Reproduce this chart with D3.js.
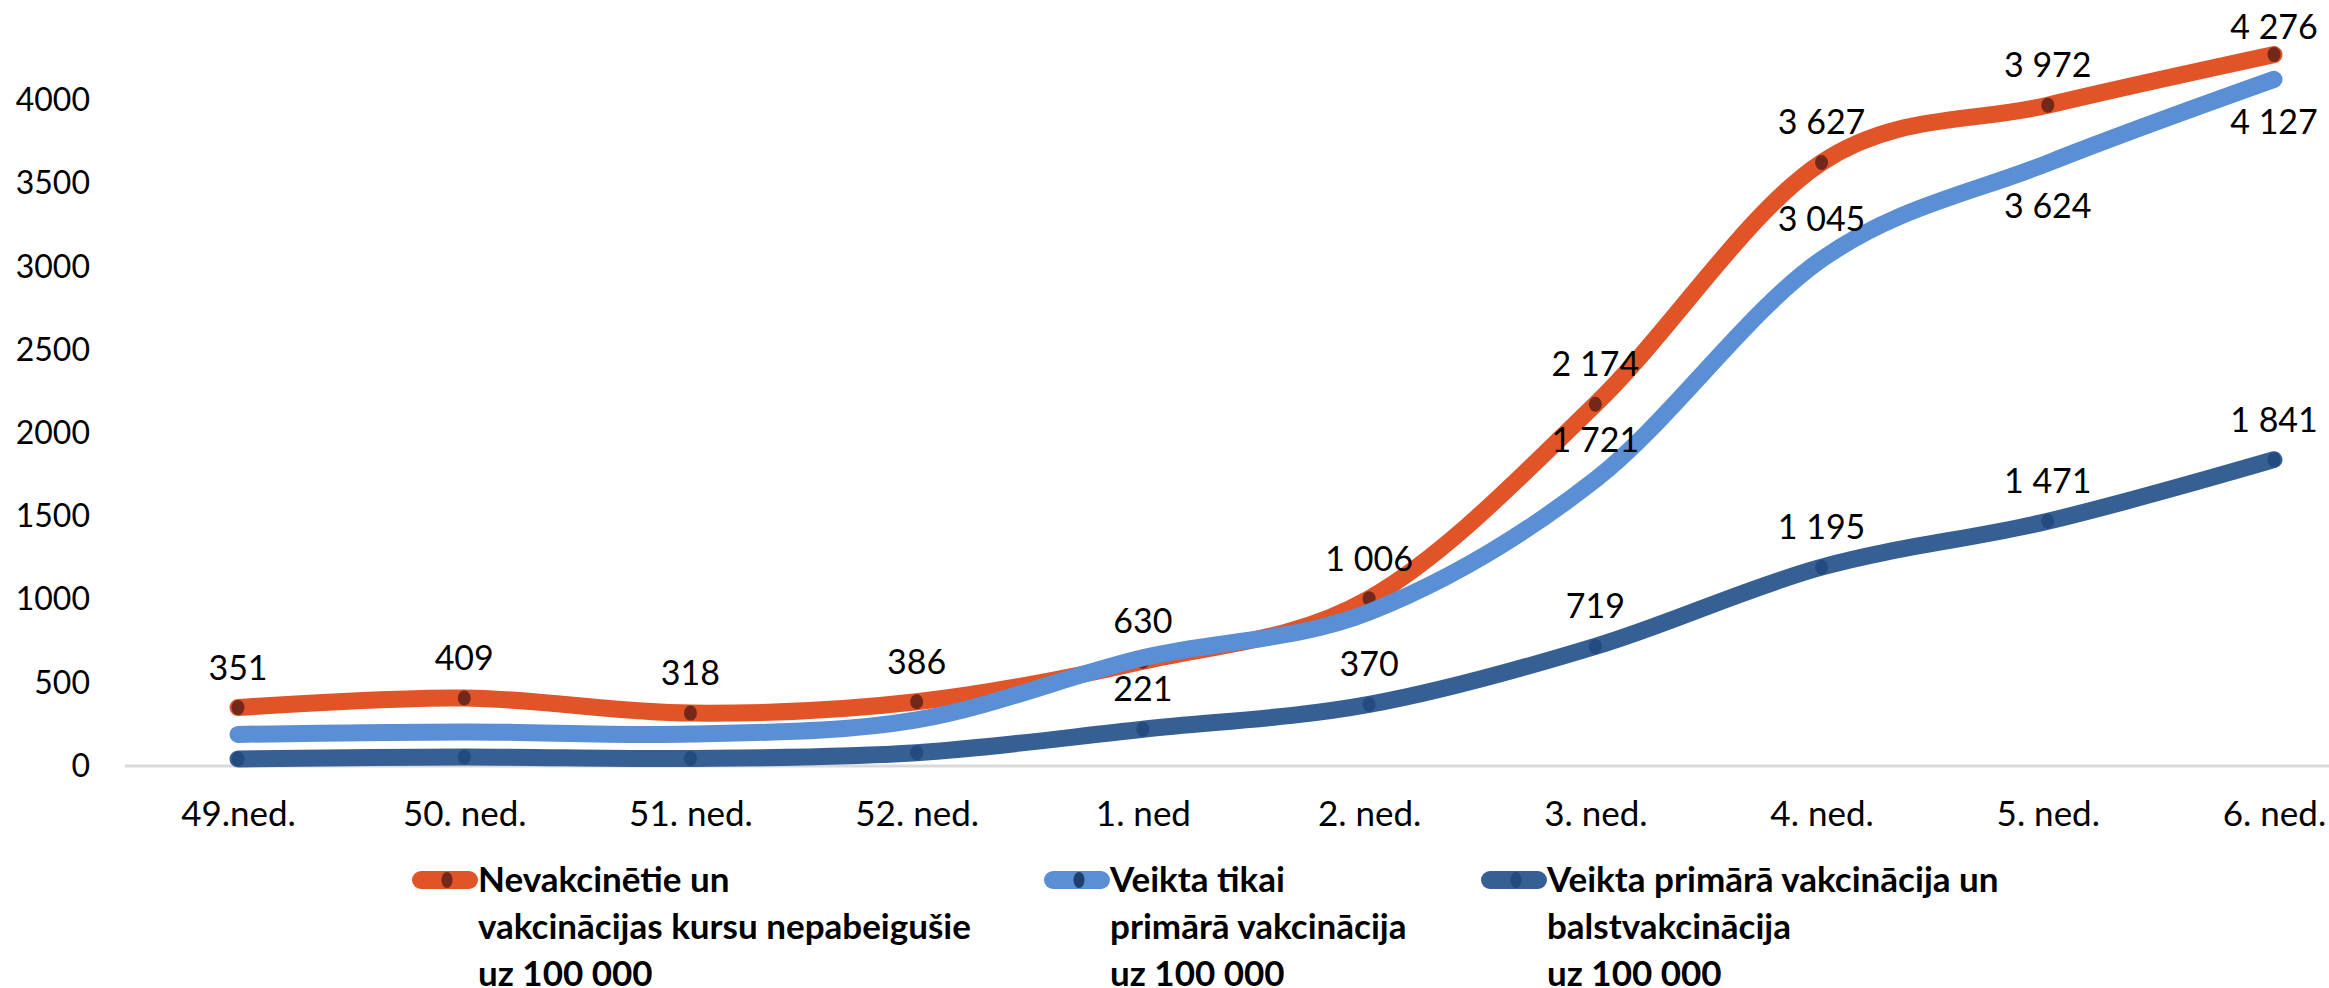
<!DOCTYPE html>
<html>
<head>
<meta charset="utf-8">
<script src="https://cdn.jsdelivr.net/npm/d3@7"></script>
<style>
	body{margin:0;background:#fff}
	text{font-family:Lato,"Open Sans",sans-serif;fill:#000}
</style>
</head>
<body>
<div id="chart"></div>
<script>
// week labels on the x axis
var weeks=["49.ned.","50. ned.","51. ned.","52. ned.","1. ned","2. ned.","3. ned.","4. ned.","5. ned.","6. ned."]

// cases per 100 000
var unvaccinated=[351,409,318,386,630,1006,2174,3627,3972,4276]
var primaryOnly=[190,205,192,277,650,925,1721,3045,3624,4127]
var boosted=[42,54,45,80,221,370,719,1195,1471,1841]

var yTicks=[0,500,1000,1500,2000,2500,3000,3500,4000]

var legendNames=[
	["Nevakcinētie un","vakcinācijas kursu nepabeigušie","uz 100 000"],
	["Veikta tikai","primārā vakcinācija","uz 100 000"],
	["Veikta primārā vakcinācija un","balstvakcinācija","uz 100 000"]
]

var W=2329,H=988

// label side per point: 1 above, -1 below, 0 none
var series=[
	{values:unvaccinated,color:"#e05427",dot:"#74281a",dots:true,labels:[1,1,1,1,1,1,1,1,1,1]},
	{values:primaryOnly,color:"#5a8fd6",dot:"#1f3f6e",dots:false,labels:[0,0,0,0,0,0,1,1,-1,-1]},
	{values:boosted,color:"#365f93",dot:"#244b80",dots:true,labels:[0,0,0,0,1,1,1,1,1,1]}
]

var fmt=d3.formatLocale({decimal:",",thousands:" ",grouping:[3],currency:["",""]}).format(",")

var svg=d3.select("#chart").append("svg")
	.attr("width",W)
	.attr("height",H)

var x=d3.scalePoint()
	.domain(weeks)
	.range([238,2274])

var y=d3.scaleLinear()
	.domain([0,4000])
	.range([766,100.5])

// y axis: labels only
var yAxis=svg.append("g")
	.attr("transform","translate(90,0)")
	.call(d3.axisLeft(y).tickValues(yTicks).tickSize(0).tickPadding(0).tickFormat(d3.format("d")))
yAxis.select(".domain").remove()
yAxis.selectAll("text")
	.style("font-size","32px")
	.style("font-family","Lato, 'Open Sans', sans-serif")
	.attr("fill","#000")

// baseline
svg.append("line")
	.attr("x1",125).attr("x2",W)
	.attr("y1",y(0)).attr("y2",y(0))
	.attr("stroke","#d9d9d9")
	.attr("stroke-width",3)

// x axis labels
var xAxis=svg.append("g")
	.attr("transform","translate(0,"+y(0)+")")
	.call(d3.axisBottom(x).tickSize(0).tickPadding(35))
xAxis.select(".domain").remove()
xAxis.selectAll("text")
	.style("font-size","35px")
	.style("font-family","Lato, 'Open Sans', sans-serif")
	.attr("fill","#000")

var line=d3.line()
	.x(function(d,i){return x(weeks[i])})
	.y(function(d){return y(d)})
	.curve(d3.curveCardinal.tension(0))

series.forEach(function(s){
	svg.append("path")
		.datum(s.values)
		.attr("d",line)
		.attr("fill","none")
		.attr("stroke",s.color)
		.attr("stroke-width",17)
		.attr("stroke-linecap","round")
		.attr("stroke-linejoin","round")
	if(s.dots){
		svg.selectAll(null)
			.data(s.values)
			.enter()
			.append("ellipse")
			.attr("cx",function(d,i){return x(weeks[i])})
			.attr("cy",function(d){return y(d)})
			.attr("rx",6.5)
			.attr("ry",7.5)
			.attr("fill",s.dot)
	}
})

// data labels
series.forEach(function(s){
	var pts=s.values.map(function(v,i){return {v:v,i:i,side:s.labels[i]}}).filter(function(p){return p.side!=0})
	svg.selectAll(null)
		.data(pts)
		.enter()
		.append("text")
		.attr("x",function(p){return x(weeks[p.i])})
		.attr("y",function(p){
			var yy=p.side>0?y(p.v)-40:y(p.v)+43
			return Math.max(yy,27)
		})
		.attr("dy","0.35em")
		.attr("text-anchor","middle")
		.style("font-size","34px")
		.text(function(p){return fmt(p.v)})
})

// legend
var legendX=[412,1044,1481]
var legendY=880,lineGap=47
legendNames.forEach(function(lines,k){
	var g=svg.append("g").attr("transform","translate("+legendX[k]+","+legendY+")")
	g.append("line")
		.attr("x1",9).attr("x2",57)
		.attr("y1",0).attr("y2",0)
		.attr("stroke",series[k].color)
		.attr("stroke-width",18)
		.attr("stroke-linecap","round")
	g.append("ellipse")
		.attr("cx",35).attr("cy",0)
		.attr("rx",5.5).attr("ry",8)
		.attr("fill",series[k].dot)
	g.selectAll("text")
		.data(lines)
		.enter()
		.append("text")
		.attr("x",66)
		.attr("y",function(d,i){return i*lineGap})
		.attr("dy","0.35em")
		.style("font-size","35px")
		.style("font-weight","bold")
		.text(function(d){return d})
})
</script>
</body>
</html>
